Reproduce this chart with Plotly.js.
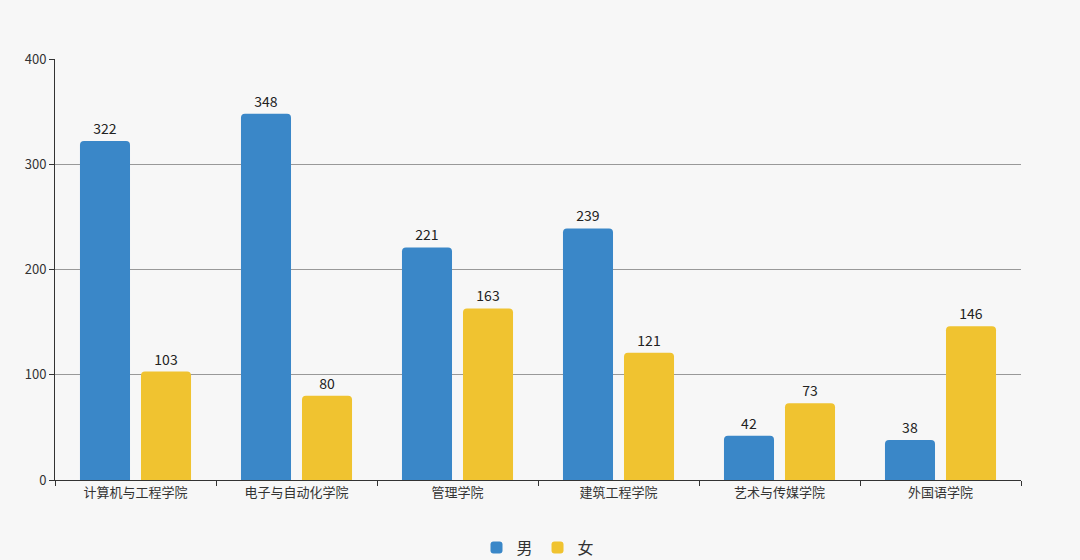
<!DOCTYPE html>
<html>
<head>
<meta charset="utf-8">
<script src="https://cdn.plot.ly/plotly-3.0.1.min.js"></script>
<style>
	html, body { margin: 0; padding: 0; background: #f7f7f7; }
	#chart { width: 1080px; height: 560px; }
</style>
</head>
<body>
<div id="chart"></div>
<script>
	/* Data */
	var colleges = ['计算机与工程学院', '电子与自动化学院', '管理学院', '建筑工程学院', '艺术与传媒学院', '外国语学院'];
	var male = [322, 348, 221, 239, 42, 38];
	var female = [103, 80, 163, 121, 73, 146];
	var seriesNames = ['男', '女'];

	var font = '"Noto Sans CJK SC", "Noto Sans", sans-serif';

	function barTrace(name, values, color) {
		return {
			type: 'bar',
			name: name,
			x: colleges,
			y: values,
			text: values.map(String),
			textposition: 'outside',
			cliponaxis: false,
			textfont: { family: font, size: 14, color: '#222' },
			marker: { color: color, cornerradius: 4 },
			hoverinfo: 'x+y'
		};
	}

	var data = [
		barTrace(seriesNames[0], male, '#3a87c8'),
		barTrace(seriesNames[1], female, '#f0c330')
	];

	var layout = {
		width: 1080,
		height: 560,
		paper_bgcolor: '#f7f7f7',
		plot_bgcolor: '#f7f7f7',
		margin: { l: 55, r: 59, t: 59, b: 80, autoexpand: false },
		font: { family: font, size: 13, color: '#333' },
		barmode: 'group',
		bargap: 0.242,
		bargroupgap: 0.18,
		showlegend: true,
		legend: {
			orientation: 'h',
			yref: 'container',
			x: 0.5, xanchor: 'center',
			y: 0.022, yanchor: 'middle',
			font: { family: font, size: 16, color: '#333' },
			itemwidth: 30,
			tracegroupgap: 0
		},
		xaxis: {
			type: 'category',
			showline: true,
			linecolor: '#333',
			linewidth: 1,
			ticks: 'outside',
			tickson: 'boundaries',
			ticklen: 5,
			tickcolor: '#333',
			showgrid: false,
			tickfont: { family: font, size: 13, color: '#333' }
		},
		yaxis: {
			range: [0, 400],
			dtick: 100,
			showline: true,
			linecolor: '#333',
			linewidth: 1,
			ticks: 'outside',
			ticklen: 5,
			tickcolor: '#333',
			gridcolor: '#999',
			gridwidth: 1,
			zeroline: false,
			tickfont: { family: font, size: 13, color: '#333' }
		}
	};

	Plotly.newPlot('chart', data, layout, { displayModeBar: false, staticPlot: true });
</script>
</body>
</html>
